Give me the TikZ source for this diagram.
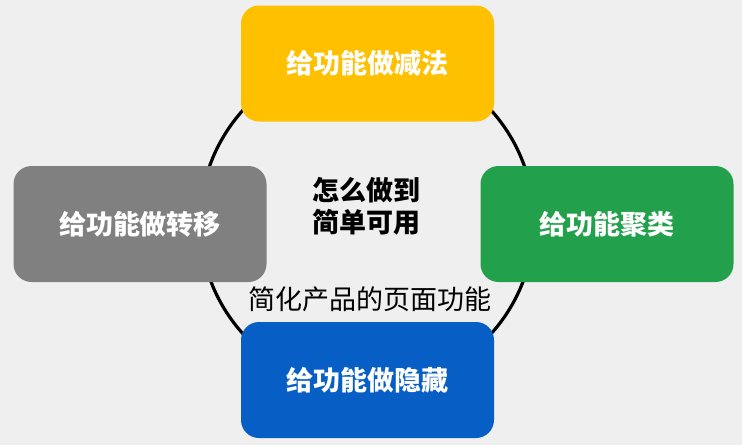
\documentclass[tikz,border=0pt]{standalone}
\usepackage{fontspec}
\setmainfont{Noto Sans CJK SC}
\definecolor{bgc}{HTML}{EFEFEF}
\definecolor{cyellow}{HTML}{FFC000}
\definecolor{cgreen}{HTML}{23A04B}
\definecolor{cgray}{HTML}{808080}
\definecolor{cblue}{HTML}{075FC6}
\tikzset{
  card/.style={rounded corners=18pt, minimum width=253pt, minimum height=116pt,
    inner sep=0pt, text=white, font=\bfseries\fontsize{27}{32}\selectfont},
}
\begin{document}
\begin{tikzpicture}[x=1pt,y=-1pt]
\fill[bgc] (0,0) rectangle (742,445);
\useasboundingbox (0,0) rectangle (742,445);
\node[circle, draw=black, line width=3.2pt, minimum size=334pt, inner sep=0pt] (ring) at (367,222) {};
\node[card, fill=cyellow] (minus) at (367.5,63.5) {给功能做减法};
\node[card, fill=cgray] (move) at (140,224) {给功能做转移};
\node[card, fill=cgreen] (group) at (607,224) {给功能聚类};
\node[card, fill=cblue] (hide) at (367.5,380) {给功能做隐藏};
\node[align=center, font=\bfseries\fontsize{27}{32}\selectfont, inner sep=0pt] (how) at (366,206) {怎么做到\\简单可用};
\node[font=\fontsize{27}{32}\selectfont, inner sep=0pt] (simp) at (370,299) {简化产品的页面功能};
\end{tikzpicture}
\end{document}
